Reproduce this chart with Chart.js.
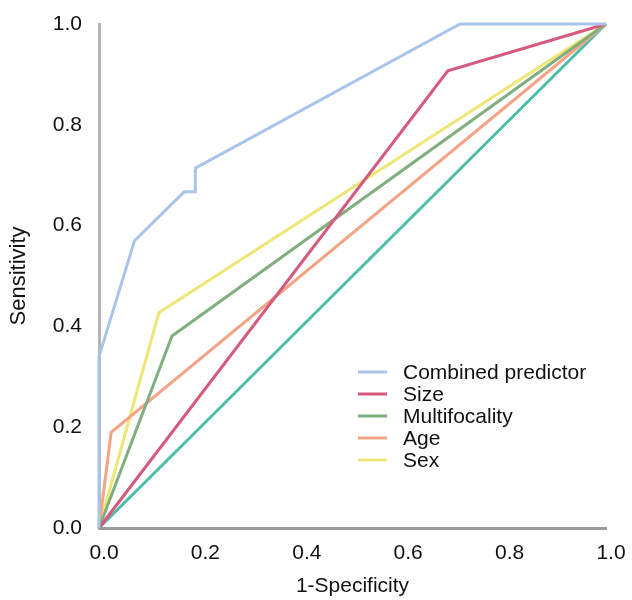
<!DOCTYPE html>
<html>
<head>
<meta charset="utf-8">
<script src="https://cdn.jsdelivr.net/npm/chart.js@4/dist/chart.umd.min.js"></script>
<style>
  html, body { margin: 0; padding: 0; background: #fff; }
  #roc { display: block; }
</style>
</head>
<body>
<canvas id="roc" width="632" height="600"></canvas>
<script>
// ROC curves
const seriesNames = ['Combined predictor', 'Size', 'Multifocality', 'Age', 'Sex'];

const combinedFpr = [0, 0, 0.07, 0.168, 0.19, 0.19, 0.712, 1];
const combinedTpr = [0, 0.34, 0.57, 0.667, 0.667, 0.714, 1, 1];

const sizeFpr = [0, 0.688, 1];
const sizeTpr = [0, 0.907, 1];

const multiFpr = [0, 0.144, 1];
const multiTpr = [0, 0.381, 1];

const ageFpr = [0, 0.024, 1];
const ageTpr = [0, 0.19, 1];

const sexFpr = [0, 0.118, 1];
const sexTpr = [0, 0.427, 1];

const refFpr = [0, 1];
const refTpr = [0, 1];

const axisTicks = [0, 0.2, 0.4, 0.6, 0.8, 1.0];

const FONT = "'Liberation Sans', Arial, sans-serif";

function pts(xs, ys) {
    return xs.map((x, i) => ({ x: x, y: ys[i] }));
}

function curve(label, xs, ys, color) {
    return {
        label: label,
        data: pts(xs, ys),
        borderColor: color,
        backgroundColor: color,
        borderWidth: 3,
        pointRadius: 0,
        tension: 0,
        fill: false,
        clip: false
    };
}

// legend drawn inside the plot, lower right
const innerLegend = {
    id: 'innerLegend',
    afterDatasetsDraw(chart) {
        const ctx = chart.ctx;
        ctx.save();
        ctx.font = '21px ' + FONT;
        ctx.textBaseline = 'middle';
        ctx.textAlign = 'left';
        seriesNames.forEach((name, i) => {
            const ds = chart.data.datasets[i];
            const y = 372 + i * 22;
            ctx.strokeStyle = ds.borderColor;
            ctx.lineWidth = 3;
            ctx.beginPath();
            ctx.moveTo(358, y);
            ctx.lineTo(387, y);
            ctx.stroke();
            ctx.fillStyle = '#111';
            ctx.fillText(name, 403, y + 1);
        });
        ctx.restore();
    }
};

new Chart(document.getElementById('roc'), {
    type: 'line',
    data: {
        datasets: [
            curve(seriesNames[0], combinedFpr, combinedTpr, '#a8c4ea'),
            curve(seriesNames[1], sizeFpr, sizeTpr, '#d65a7c'),
            curve(seriesNames[2], multiFpr, multiTpr, '#80ae7f'),
            curve(seriesNames[3], ageFpr, ageTpr, '#f3a487'),
            curve(seriesNames[4], sexFpr, sexTpr, '#eee676'),
            curve('Reference', refFpr, refTpr, '#4cbdab')
        ]
    },
    options: {
        responsive: false,
        animation: false,
        layout: { padding: { top: 24, right: 26, left: 0, bottom: 0 } },
        plugins: {
            legend: { display: false },
            tooltip: { enabled: false }
        },
        scales: {
            x: {
                type: 'linear',
                min: 0,
                max: 1,
                afterFit: (scale) => {
                    scale.height = 72;
                    scale.paddingLeft = 0;
                    scale.paddingRight = 0;
                },
                afterBuildTicks: (scale) => { scale.ticks = axisTicks.map(v => ({ value: v })); },
                grid: { display: false, drawTicks: false },
                border: { display: true, color: '#9a9a9a', width: 3 },
                ticks: {
                    padding: 13,
                    labelOffset: 5,
                    maxRotation: 0,
                    color: '#111',
                    font: { family: FONT, size: 21 },
                    callback: (v) => Number(v).toFixed(1)
                },
                title: {
                    display: true,
                    text: '1-Specificity',
                    color: '#111',
                    font: { family: FONT, size: 21 },
                    padding: { top: 0, bottom: 1 }
                }
            },
            y: {
                type: 'linear',
                min: 0,
                max: 1,
                afterFit: (scale) => {
                    scale.width = 99;
                    scale.paddingTop = 0;
                    scale.paddingBottom = 0;
                },
                afterBuildTicks: (scale) => { scale.ticks = axisTicks.map(v => ({ value: v })); },
                grid: { display: false, drawTicks: false },
                border: { display: true, color: '#b4b4b4', width: 3 },
                ticks: {
                    padding: 17,
                    color: '#111',
                    font: { family: FONT, size: 21 },
                    callback: (v) => Number(v).toFixed(1)
                },
                title: {
                    display: true,
                    text: 'Sensitivity',
                    color: '#111',
                    font: { family: FONT, size: 22 },
                    padding: { top: 6, bottom: 0 }
                }
            }
        }
    },
    plugins: [innerLegend]
});
</script>
</body>
</html>
